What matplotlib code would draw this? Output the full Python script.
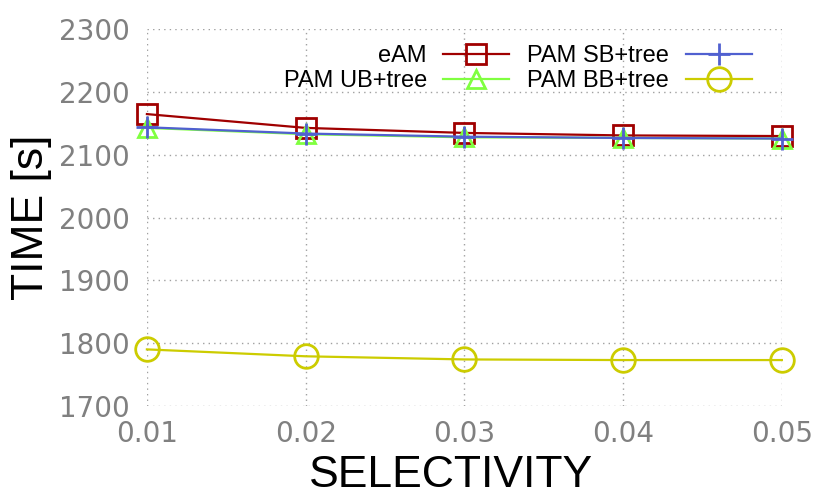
import numpy as np
import matplotlib
matplotlib.use("Agg")
import matplotlib.pyplot as plt

# selectivity values on the x axis
selectivity = [0.01, 0.02, 0.03, 0.04, 0.05]

# time in seconds
eam = [2165, 2143, 2135, 2131, 2130]
pam_ub = [2143, 2133, 2128, 2127, 2126]
pam_sb = [2144, 2134, 2129, 2127, 2126]
pam_bb = [1790, 1779, 1774, 1773, 1773]

yticks = [1700, 1800, 1900, 2000, 2100, 2200, 2300]

fig = plt.figure(figsize=(8.3, 4.98), dpi=100)
ax = fig.add_axes([0.177, 0.185, 0.765, 0.756])

ax.plot(selectivity, eam, color="#a00000", lw=1.6, marker="s", ms=15,
        mfc="none", mew=2, label="eAM", clip_on=False)
ax.plot(selectivity, pam_ub, color="#80ff40", lw=1.6, marker="^", ms=13,
        mfc="none", mew=2, label="PAM UB+tree", clip_on=False)
ax.plot(selectivity, pam_sb, color="#5060d0", lw=1.6, marker="+", ms=16,
        mew=2, label="PAM SB+tree", clip_on=False)
ax.plot(selectivity, pam_bb, color="#cccc00", lw=1.6, marker="o", ms=17,
        mfc="none", mew=2, label="PAM BB+tree", clip_on=False)

ax.set_xlim(0.01, 0.05)
ax.set_ylim(1700, 2300)
ax.set_xticks(selectivity)
ax.set_xticklabels(["%.2f" % s for s in selectivity])
ax.set_yticks(yticks)

for s in ax.spines.values():
    s.set_visible(False)
ax.grid(True, color="#a0a0a0", linestyle=(0, (1, 3)), lw=1)
ax.tick_params(length=0, labelsize=20, labelcolor="#808080")
ax.tick_params(axis="y", pad=12)
ax.tick_params(axis="x", pad=10)

ax.set_xlabel("SELECTIVITY", fontsize=32, family="Liberation Sans")
ax.set_ylabel("TIME [s]", fontsize=32, family="Liberation Sans")
ax.xaxis.set_label_coords(0.479, -0.13)
ax.yaxis.set_label_coords(-0.15, 0.5)

leg = ax.legend(ncol=2, loc="upper right", bbox_to_anchor=(0.986, 1.015),
                markerfirst=False, frameon=False, handlelength=2.8,
                handletextpad=0.7, columnspacing=0.75, labelspacing=0.12,
                prop={"family": "Liberation Sans", "size": 17})

fig.savefig("out.png", dpi=100)
